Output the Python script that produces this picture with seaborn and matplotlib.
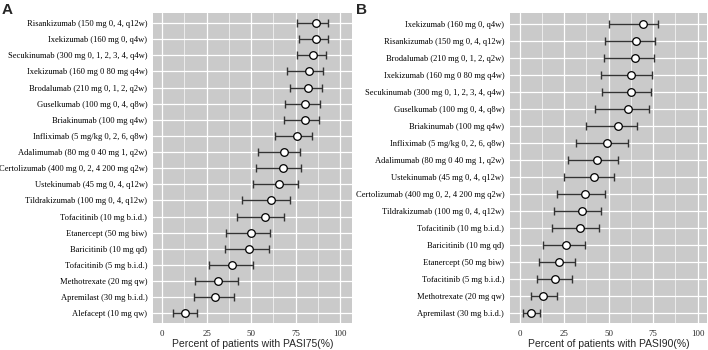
import numpy as np
import pandas as pd
import matplotlib
matplotlib.use('Agg')
import matplotlib.pyplot as plt
import seaborn as sns

# Panel A - PASI75
a_names = ["Risankizumab (150 mg 0, 4, q12w)", "Ixekizumab (160 mg 0, q4w)",
           "Secukinumab (300 mg 0, 1, 2, 3, 4, q4w)", "Ixekizumab (160 mg 0 80 mg q4w)",
           "Brodalumab (210 mg 0, 1, 2, q2w)", "Guselkumab (100 mg 0, 4, q8w)",
           "Briakinumab (100 mg q4w)", "Infliximab (5 mg/kg 0, 2, 6, q8w)",
           "Adalimumab (80 mg 0 40 mg 1, q2w)", "Certolizumab (400 mg 0, 2, 4 200 mg q2w)",
           "Ustekinumab (45 mg 0, 4, q12w)", "Tildrakizumab (100 mg 0, 4, q12w)",
           "Tofacitinib (10 mg b.i.d.)", "Etanercept (50 mg biw)", "Baricitinib (10 mg qd)",
           "Tofacitinib (5 mg b.i.d.)", "Methotrexate (20 mg qw)", "Apremilast (30 mg b.i.d.)",
           "Alefacept (10 mg qw)"]
a_est = [86.3, 86.3, 85.0, 82.6, 82.0, 80.5, 80.1, 76.0, 68.2, 67.8, 65.5, 61.2, 57.9,
         50.0, 48.9, 39.5, 31.1, 29.8, 12.9]
a_lo = [76.0, 76.8, 76.0, 69.9, 72.1, 69.1, 68.2, 63.3, 54.1, 52.6, 51.3, 44.8, 42.1,
        35.6, 35.4, 26.2, 18.5, 17.6, 6.2]
a_hi = [93.3, 93.3, 92.1, 90.4, 89.9, 88.8, 88.0, 84.3, 77.7, 78.1, 76.4, 71.9, 68.4,
        60.7, 60.1, 51.1, 42.7, 40.3, 19.7]

# Panel B - PASI90
b_names = ["Ixekizumab (160 mg 0, q4w)", "Risankizumab (150 mg 0, 4, q12w)",
           "Brodalumab (210 mg 0, 1, 2, q2w)", "Ixekizumab (160 mg 0 80 mg q4w)",
           "Secukinumab (300 mg 0, 1, 2, 3, 4, q4w)", "Guselkumab (100 mg 0, 4, q8w)",
           "Briakinumab (100 mg q4w)", "Infliximab (5 mg/kg 0, 2, 6, q8w)",
           "Adalimumab (80 mg 0 40 mg 1, q2w)", "Ustekinumab (45 mg 0, 4, q12w)",
           "Certolizumab (400 mg 0, 2, 4 200 mg q2w)", "Tildrakizumab (100 mg 0, 4, q12w)",
           "Tofacitinib (10 mg b.i.d.)", "Baricitinib (10 mg qd)", "Etanercept (50 mg biw)",
           "Tofacitinib (5 mg b.i.d.)", "Methotrexate (20 mg qw)", "Apremilast (30 mg b.i.d.)"]
b_est = [69.3, 65.7, 64.8, 62.7, 62.7, 61.0, 55.1, 49.4, 43.8, 41.6, 36.5, 35.0, 33.7,
         26.2, 21.9, 19.9, 13.3, 6.4]
b_lo = [50.2, 47.9, 47.4, 45.7, 46.3, 42.5, 37.3, 31.8, 27.3, 25.1, 21.3, 19.5, 18.5,
        13.3, 10.7, 9.9, 6.2, 1.7]
b_hi = [77.7, 76.0, 75.3, 74.5, 73.6, 72.5, 66.1, 61.2, 55.2, 53.0, 47.8, 45.5, 44.8,
        36.5, 31.1, 29.6, 20.8, 11.6]

sns.set_style("darkgrid", {"axes.facecolor": "#cacaca", "grid.color": "white"})

fig = plt.figure(figsize=(7.08, 3.5), dpi=100)
axA = fig.add_axes([0.216, 0.077, 0.281, 0.885])
axB = fig.add_axes([0.720, 0.077, 0.279, 0.885])


def forest(ax, names, est, lo, hi, xlabel, xlim):
    df = pd.DataFrame({"name": names, "est": est, "lo": lo, "hi": hi})
    df["pos"] = np.arange(len(df))
    ax.errorbar(df["est"], df["pos"], xerr=[df["est"] - df["lo"], df["hi"] - df["est"]],
                fmt="none", ecolor="#333333", elinewidth=1.0, capsize=3, capthick=1.0, zorder=3)
    sns.scatterplot(data=df, x="est", y="pos", ax=ax, marker="o", s=30,
                    color="white", edgecolor="black", linewidth=0.9, zorder=4)
    ax.set_yticks(df["pos"])
    ax.set_yticklabels(df["name"], fontfamily="Liberation Serif", fontsize=6.15, color="black")
    ax.set_ylim(len(df) - 0.4, -0.6)
    ax.set_xlim(*xlim)
    ax.set_xticks([0, 25, 50, 75, 100])
    ax.set_xticks([12.5, 37.5, 62.5, 87.5], minor=True)
    ax.set_xticklabels(["0", "25", "50", "75", "100"], fontfamily="Liberation Serif", fontsize=6.3)
    ax.grid(which="major", color="white", linewidth=0.9)
    ax.grid(which="minor", axis="x", color="white", linewidth=0.45)
    ax.tick_params(axis="both", which="major", length=2.5, width=0.6, color="#333333", pad=2.5)
    ax.tick_params(axis="y", which="major", pad=1.5)
    ax.tick_params(axis="x", which="minor", length=0)
    ax.set_xlabel(xlabel, fontfamily="Liberation Sans", fontsize=7.5, labelpad=1)
    ax.set_ylabel("")
    for s in ax.spines.values():
        s.set_visible(False)


forest(axA, a_names, a_est, a_lo, a_hi, "Percent of patients with PASI75(%)", (-5.2, 106.6))
forest(axB, b_names, b_est, b_lo, b_hi, "Percent of patients with PASI90(%)", (-5.5, 105.5))

fig.text(0.003, 0.99, "A", fontsize=11, fontweight="bold", family="Liberation Sans", va="top")
fig.text(0.503, 0.99, "B", fontsize=11, fontweight="bold", family="Liberation Sans", va="top")

fig.savefig("out.png", dpi=100)
